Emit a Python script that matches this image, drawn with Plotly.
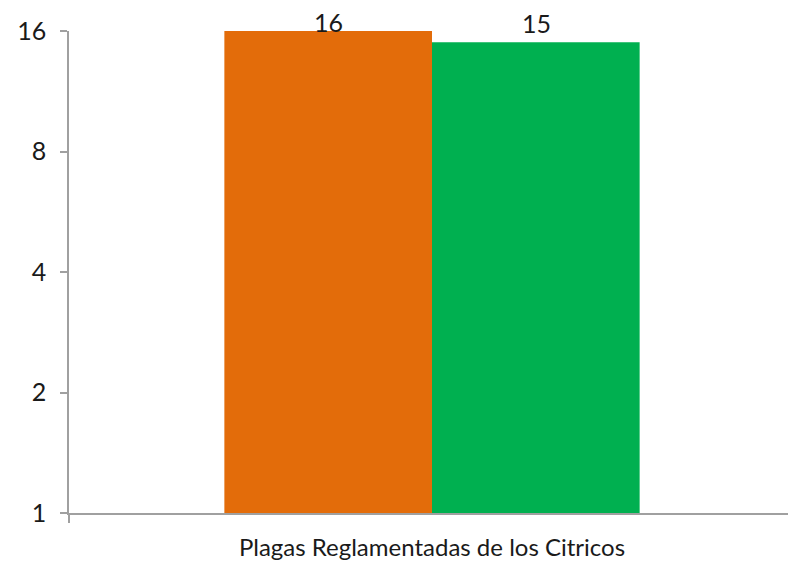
import plotly.graph_objects as go
import math

categories = ["Plagas Reglamentadas de los Citricos"]
series_a = [16]
series_b = [15]
series_colors = ["#E36C0A", "#00B050"]
y_ticks = [1, 2, 4, 8, 16]

Y_MAX = 16
PLOT_H = 482  # plot area height in px (553 - 23 - 48)

fig = go.Figure()
offsets = [-104, 104]
for i, (vals, col, name) in enumerate([(series_a, series_colors[0], "A"), (series_b, series_colors[1], "B")]):
    fig.add_trace(go.Bar(
        x=categories, y=vals, name=name, marker=dict(color=col, line=dict(width=0)),
    ))
    for c, v in zip(categories, vals):
        # Excel-style outside label, clamped so it stays inside the chart area
        room = (math.log10(Y_MAX) - math.log10(v)) / math.log10(Y_MAX) * PLOT_H
        fig.add_annotation(
            x=c, y=math.log10(v), text=str(v), showarrow=False,
            xshift=offsets[i], yanchor="bottom", yshift=min(2, -8 + room),
            font=dict(family="Lato", size=25, color="#1a1a1a"),
        )

fig.update_layout(
    width=788, height=553,
    margin=dict(l=61, r=1, t=23, b=48),
    plot_bgcolor="white", paper_bgcolor="white",
    barmode="group", bargap=0.428, bargroupgap=0,
    showlegend=False,
    font=dict(family="Lato", size=22, color="#1a1a1a"),
)
fig.update_yaxes(
    type="log", range=[0, math.log10(Y_MAX)], tickvals=y_ticks, ticktext=[str(v) for v in y_ticks],
    showgrid=False, zeroline=False, showline=True, linecolor="#A0A0A0", linewidth=1.5,
    ticks="outside", ticklen=7, tickcolor="#A0A0A0", tickwidth=1.5, automargin=False,
    ticklabelstandoff=9,
    tickfont=dict(family="Lato", size=25, color="#1a1a1a"),
)
fig.update_xaxes(
    showgrid=False, showline=True, linecolor="#A0A0A0", linewidth=1.5,
    ticks="outside", tickson="boundaries", ticklen=8, tickcolor="#A0A0A0", tickwidth=1.5,
    automargin=False, ticklabelstandoff=12,
    tickfont=dict(family="Lato", size=24, color="#1a1a1a"),
)
fig.write_html("out.html")
